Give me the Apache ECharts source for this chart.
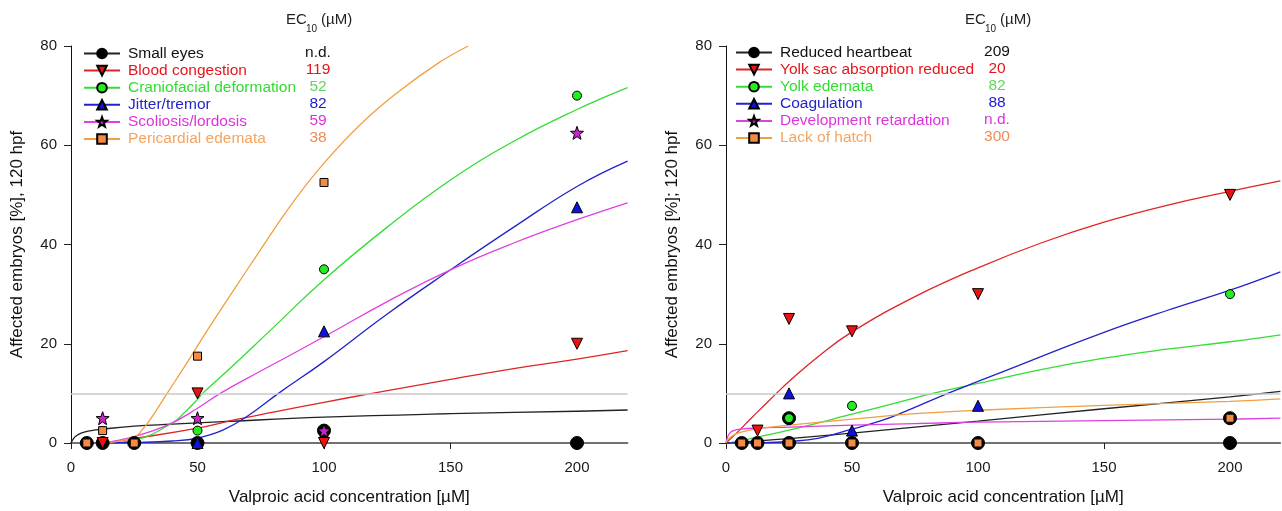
<!DOCTYPE html>
<html>
<head>
<meta charset="utf-8">
<script src="https://cdn.jsdelivr.net/npm/echarts@6/dist/echarts.min.js"></script>
<style>
  html, body { margin: 0; padding: 0; background: #ffffff; }
  #chart { width: 1282px; height: 511px; }
</style>
</head>
<body>
<div id="chart"></div>
<script>
// ---- Tested concentrations (µM) and tick labels ----
const concentrations = [6.25, 12.5, 25, 50, 100, 200];
const xTicks = [0, 50, 100, 150, 200];
const yTicks = [0, 20, 40, 60, 80];
const threshold = 10; // EC10 level

// ---- Left panel: endpoints, EC10 values, observed incidence (%) ----
const leftEndpoints = ['Small eyes', 'Blood congestion', 'Craniofacial deformation', 'Jitter/tremor', 'Scoliosis/lordosis', 'Pericardial edemata'];
const leftEC10 = ['n.d.', '119', '52', '82', '59', '38'];
const smallEyes       = [0, 0, 0, 0, 2.5, 0];
const bloodCongestion = [null, 0, null, 10, 0, 20];
const craniofacial    = [null, null, null, 2.5, 35, 70];
const jitterTremor    = [null, null, null, 0, 22.5, 47.5];
const scoliosis       = [null, 5, null, 5, 2.5, 62.5];
const pericardial     = [0, 2.5, 0, 17.5, 52.5, null];

// Fitted concentration-response curves [concentration, %]
const fitSmallEyes = [[0,0],[1,0.9],[2,1.4],[4,2.0],[8,2.5],[12.5,2.8],[25,3.4],[40,3.8],[60,4.3],[100,5.2],[150,5.9],[200,6.4],[220,6.65]];
const fitBloodCongestion = [[12.5,0],[25,0.9],[50,3.0],[65,4.7],[80,6.2],[100,8.2],[119,10],[150,12.8],[175,15],[200,16.9],[220,18.6]];
const fitCraniofacial = [[12.5,0],[25,0.6],[40,4.0],[45,6.2],[50,8.8],[52,10],[63,15.1],[79,22.8],[100,32.9],[125,43.5],[150,53],[175,60.8],[200,67.2],[220,71.6]];
const fitJitterTremor = [[12.5,0],[25,0.1],[40,0.4],[50,1.0],[60,2.6],[70,5.5],[82,10],[100,16.4],[125,26],[150,34.9],[175,43.5],[200,51.7],[220,56.8]];
const fitScoliosis = [[12.5,0],[25,1.3],[39,3.8],[50,7.0],[59,10],[75,14.5],[100,21.4],[125,28.5],[150,34.9],[175,40.3],[200,45],[220,48.4]];
const fitPericardial = [[12.5,0],[20,0.5],[26,1.5],[28,2.6],[31,4.5],[38,10],[45,15.5],[54,22.8],[63,29.8],[75,39],[87,48],[100,56.4],[115,64.5],[130,71],[145,76.5],[157,80]];

// ---- Right panel: endpoints, EC10 values, observed incidence (%) ----
const rightEndpoints = ['Reduced heartbeat', 'Yolk sac absorption reduced', 'Yolk edemata', 'Coagulation', 'Development retardation', 'Lack of hatch'];
const rightEC10 = ['209', '20', '82', '88', 'n.d.', '300'];
const heartbeatConc  = [6.25, 12.5, 25, 25, 50, 100, 200, 200];
const heartbeat      = [0, 0, 0, 5, 0, 0, 0, 5];
const yolkSac        = [null, 2.5, 25, 22.5, 30, 50];
const yolkEdemata    = [null, null, 5, 7.5, null, 30];
const coagulation    = [null, null, 10, 2.5, 7.5, null];
const devRetardation = [null, null, null, null, null, null];
const lackOfHatch    = [0, 0, 0, 0, 0, 5];

const fitHeartbeat = [[0,0],[25,0.9],[50,2.0],[75,3.2],[100,4.4],[150,6.9],[200,9.3],[220,10.4]];
const fitYolkSac = [[0,0],[5,2.4],[10,5],[15,7.5],[20,10],[25,12.4],[37,17.6],[50,22.4],[75,29.5],[100,35.3],[125,40.3],[150,44.5],[175,47.9],[200,50.7],[220,52.8]];
const fitYolkEdemata = [[1.5,0],[12.5,1.2],[25,2.6],[50,5.8],[69,8.3],[82,10],[100,12],[125,14.8],[150,17.1],[175,18.9],[200,20.4],[220,21.8]];
const fitCoagulation = [[0,0],[12.5,0.05],[25,0.3],[37,1.0],[50,2.8],[61,4.4],[69,5.9],[88,10],[100,12.4],[125,17.4],[150,22.3],[175,26.7],[200,30.8],[220,34.5]];
const fitDevRetardation = [[0,0],[0.5,1.0],[1.5,2.0],[3,2.5],[6,2.8],[12.5,3.0],[25,3.2],[50,3.6],[75,3.9],[100,4.2],[150,4.5],[200,4.8],[220,5.0]];
const fitLackOfHatch = [[0,0],[1,0.8],[3,1.6],[6,2.2],[12.5,2.9],[25,3.6],[50,4.8],[75,5.9],[100,6.6],[150,7.6],[200,8.4],[220,8.9]];

// ---- Styling ----
const FONT = '"Liberation Sans", Arial, Helvetica, sans-serif';
const STAR = 'path://M0,-10L2.35,-3.24L9.51,-3.09L3.8,1.24L5.88,8.09L0,4.4L-5.88,8.09L-3.8,1.24L-9.51,-3.09L-2.35,-3.24Z';
const palette = {
  black:   { line: '#222222', fill: '#000000', text: '#111111', ec: '#111111' },
  red:     { line: '#e02424', fill: '#ee1111', text: '#e8141c', ec: '#e8141c' },
  green:   { line: '#33dd33', fill: '#22ee22', text: '#30dd30', ec: '#5ed65e' },
  blue:    { line: '#2222cc', fill: '#1111dd', text: '#2424c8', ec: '#1a1ad0' },
  magenta: { line: '#e040e0', fill: '#cc22cc', text: '#dd33dd', ec: '#dd33dd' },
  orange:  { line: '#f0a040', fill: '#f58a45', text: '#f5a560', ec: '#f08a5a' }
};
const markers = {
  circleBig: { symbol: 'circle', size: 13, rotate: 0 },
  triDown:   { symbol: 'triangle', size: 11, rotate: 180 },
  circle:    { symbol: 'circle', size: 9, rotate: 0 },
  triUp:     { symbol: 'triangle', size: 11, rotate: 0 },
  star:      { symbol: STAR, size: 13, rotate: 0 },
  square:    { symbol: 'rect', size: 8, rotate: 0 }
};

const leftSpecs = [
  { c: palette.black,   m: markers.circleBig, fit: fitSmallEyes,       xs: concentrations, ys: smallEyes,       z: 3 },
  { c: palette.red,     m: markers.triDown,   fit: fitBloodCongestion, xs: concentrations, ys: bloodCongestion, z: 8 },
  { c: palette.green,   m: markers.circle,    fit: fitCraniofacial,    xs: concentrations, ys: craniofacial,    z: 4 },
  { c: palette.blue,    m: markers.triUp,     fit: fitJitterTremor,    xs: concentrations, ys: jitterTremor,    z: 5 },
  { c: palette.magenta, m: markers.star,      fit: fitScoliosis,       xs: concentrations, ys: scoliosis,       z: 6 },
  { c: palette.orange,  m: markers.square,    fit: fitPericardial,     xs: concentrations, ys: pericardial,     z: 9 }
];
const rightSpecs = [
  { c: palette.black,   m: markers.circleBig, fit: fitHeartbeat,      xs: heartbeatConc,  ys: heartbeat,      z: 3 },
  { c: palette.red,     m: markers.triDown,   fit: fitYolkSac,        xs: concentrations, ys: yolkSac,        z: 6 },
  { c: palette.green,   m: markers.circle,    fit: fitYolkEdemata,    xs: concentrations, ys: yolkEdemata,    z: 4 },
  { c: palette.blue,    m: markers.triUp,     fit: fitCoagulation,    xs: concentrations, ys: coagulation,    z: 7 },
  { c: palette.magenta, m: markers.star,      fit: fitDevRetardation, xs: concentrations, ys: devRetardation, z: 5 },
  { c: palette.orange,  m: markers.square,    fit: fitLackOfHatch,    xs: concentrations, ys: lackOfHatch,    z: 9 }
];
leftSpecs.forEach((s, i) => { s.name = leftEndpoints[i]; s.ecText = leftEC10[i]; });
rightSpecs.forEach((s, i) => { s.name = rightEndpoints[i]; s.ecText = rightEC10[i]; });

function panelSeries(idx, specs) {
  const lines = specs.map((s, i) => {
    const line = {
      type: 'line', name: s.name, xAxisIndex: idx, yAxisIndex: idx,
      data: s.fit, smooth: 0.45,
      showSymbol: false, symbol: s.m.symbol, symbolRotate: s.m.rotate, symbolSize: s.m.size,
      lineStyle: { color: s.c.line, width: 1.3 },
      itemStyle: { color: s.c.fill, borderColor: '#000', borderWidth: 1 },
      emphasis: { disabled: true }, silent: true, z: 2, clip: true
    };
    if (i === 0) {
      line.markLine = {
        silent: true, symbol: ['none', 'none'], label: { show: false },
        lineStyle: { color: '#c8c8c8', width: 1.5, type: 'solid' },
        emphasis: { disabled: true },
        data: [{ yAxis: threshold }]
      };
    }
    return line;
  });
  const points = specs.map(s => ({
    type: 'scatter', name: s.name, xAxisIndex: idx, yAxisIndex: idx,
    data: s.xs.map((x, k) => (s.ys[k] == null ? null : [x, s.ys[k]])).filter(Boolean),
    symbol: s.m.symbol, symbolRotate: s.m.rotate, symbolSize: s.m.size,
    itemStyle: { color: s.c.fill, borderColor: '#000', borderWidth: 1, opacity: 1 },
    emphasis: { disabled: true }, silent: true, z: s.z
  }));
  return lines.concat(points);
}

function xAxisFor(idx) {
  return {
    type: 'value', gridIndex: idx, min: 0, max: 220, interval: 50,
    name: 'Valproic acid concentration [µM]', nameLocation: 'middle', nameGap: 46,
    nameTextStyle: { fontFamily: FONT, fontSize: 17, color: '#111' },
    axisLine: { show: true, onZero: false, lineStyle: { color: '#444', width: 1.5 } },
    axisTick: { show: true, inside: false, length: 6, customValues: xTicks, lineStyle: { color: '#222', width: 1 } },
    axisLabel: { customValues: xTicks, fontFamily: FONT, fontSize: 15, color: '#1a1a1a', margin: 17 },
    splitLine: { show: false }
  };
}
function yAxisFor(idx, title) {
  return {
    type: 'value', gridIndex: idx, min: 0, max: 80, interval: 20,
    name: title, nameLocation: 'middle', nameGap: 45,
    nameTextStyle: { fontFamily: FONT, fontSize: 17, color: '#111' },
    axisLine: { show: true, lineStyle: { color: '#111', width: 1 } },
    axisTick: { show: true, inside: false, length: 7, customValues: yTicks, lineStyle: { color: '#222', width: 1 } },
    axisLabel: { customValues: yTicks, fontFamily: FONT, fontSize: 15, color: '#1a1a1a', margin: 14 },
    splitLine: { show: false }
  };
}

function legendFor(specs, left, top) {
  return {
    orient: 'vertical', left: left, top: top, itemWidth: 36, itemHeight: 12, itemGap: 1.1,
    selectedMode: false, padding: 0,
    textStyle: { fontFamily: FONT, fontSize: 15.5, lineHeight: 15, padding: [0, 0, 0, 3] },
    data: specs.map(s => ({ name: s.name, textStyle: { color: s.c.text } }))
  };
}

function ecColumn(specs, cx, y0, step) {
  return specs.map((s, i) => ({
    type: 'text', silent: true, z: 20,
    style: { text: s.ecText, x: cx, y: y0 + i * step, align: 'center', verticalAlign: 'middle',
             font: '15.5px ' + FONT, fill: s.c.ec }
  }));
}
function ecHeader(x0) {
  return [
    { type: 'text', silent: true, style: { text: 'EC', x: x0, y: 12, verticalAlign: 'top', font: '15px ' + FONT, fill: '#222' } },
    { type: 'text', silent: true, style: { text: '10', x: x0 + 20, y: 24, verticalAlign: 'top', font: '10px ' + FONT, fill: '#222' } },
    { type: 'text', silent: true, style: { text: '(µM)', x: x0 + 35, y: 12, verticalAlign: 'top', font: '15px ' + FONT, fill: '#222' } }
  ];
}

const chart = echarts.init(document.getElementById('chart'), null, { renderer: 'canvas' });
chart.setOption({
  backgroundColor: '#ffffff',
  animation: false,
  grid: [
    { left: 71, top: 46, width: 556.6, height: 397, outerBoundsMode: 'none' },
    { left: 726, top: 46, width: 554.4, height: 397, outerBoundsMode: 'none' }
  ],
  xAxis: [xAxisFor(0), xAxisFor(1)],
  yAxis: [yAxisFor(0, 'Affected embryos [%], 120 hpf'), yAxisFor(1, 'Affected embryos [%]; 120 hpf')],
  legend: [legendFor(leftSpecs, 83, 45.5), legendFor(rightSpecs, 735, 44.5)],
  graphic: [].concat(
    ecHeader(286), ecHeader(965),
    ecColumn(leftSpecs, 318, 52.7, 17.1),
    ecColumn(rightSpecs, 997, 51.7, 17.1)
  ),
  series: panelSeries(0, leftSpecs).concat(panelSeries(1, rightSpecs))
});
</script>
</body>
</html>
